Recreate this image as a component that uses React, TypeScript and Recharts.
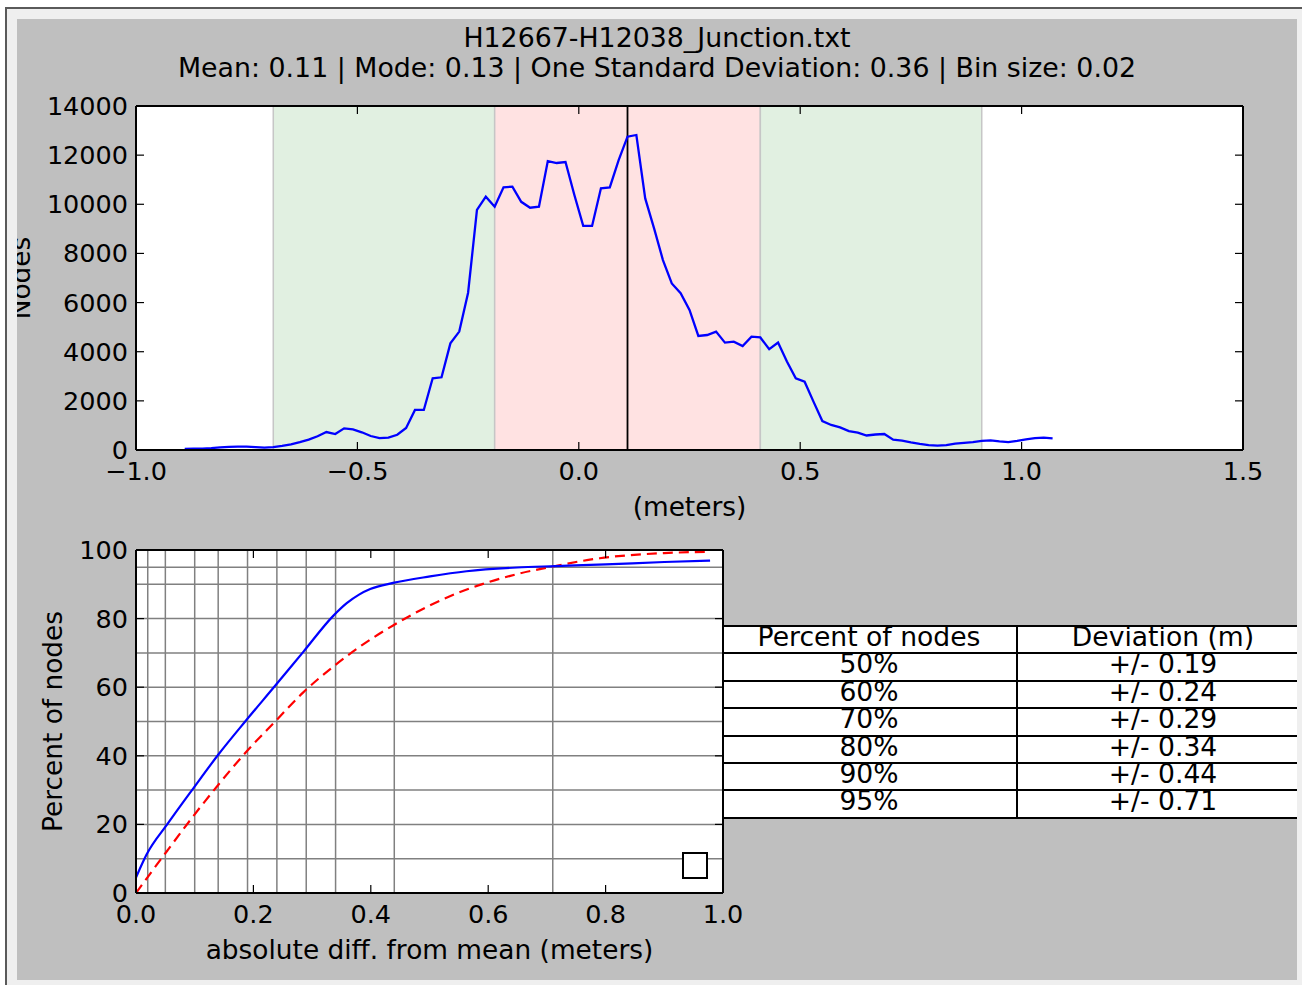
import React from 'react';
import { LineChart, Line, XAxis, YAxis, CartesianGrid, ReferenceArea, ReferenceLine } from 'recharts';

// ---------- data: histogram (top) ----------
const histBinCenters = [
  -0.89, -0.87, -0.85, -0.83, -0.81, -0.79, -0.77, -0.75, -0.73, -0.71,
  -0.69, -0.67, -0.65, -0.63, -0.61, -0.59, -0.57, -0.55, -0.53, -0.51,
  -0.49, -0.47, -0.45, -0.43, -0.41, -0.39, -0.37, -0.35, -0.33, -0.31,
  -0.29, -0.27, -0.25, -0.23, -0.21, -0.19, -0.17, -0.15, -0.13, -0.11,
  -0.09, -0.07, -0.05, -0.03, -0.01, 0.01, 0.03, 0.05, 0.07, 0.09,
  0.11, 0.13, 0.15, 0.17, 0.19, 0.21, 0.23, 0.25, 0.27, 0.29,
  0.31, 0.33, 0.35, 0.37, 0.39, 0.41, 0.43, 0.45, 0.47, 0.49,
  0.51, 0.53, 0.55, 0.57, 0.59, 0.61, 0.63, 0.65, 0.67, 0.69,
  0.71, 0.73, 0.75, 0.77, 0.79, 0.81, 0.83, 0.85, 0.87, 0.89,
  0.91, 0.93, 0.95, 0.97, 0.99, 1.01, 1.03, 1.05, 1.07,
];
const histCounts = [
  40, 50, 60, 80, 110, 130, 140, 135, 120, 100,
  120, 170, 230, 320, 420, 560, 730, 650, 880, 840,
  720, 570, 480, 500, 620, 900, 1630, 1630, 2920, 2960,
  4340, 4820, 6400, 9770, 10310, 9900, 10690, 10720, 10100, 9860,
  9900, 11760, 11680, 11720, 10380, 9120, 9120, 10650, 10690, 11800,
  12750, 12820, 10240, 9020, 7730, 6780, 6380, 5700, 4640, 4680,
  4820, 4370, 4410, 4230, 4610, 4580, 4100, 4370, 3600, 2920,
  2780, 1970, 1180, 1020, 920, 770, 710, 590, 630, 650,
  420, 380, 310, 250, 200, 180, 200, 260, 290, 320,
  370, 390, 350, 320, 370, 430, 480, 500, 470,
];
const histXTicks = [-1.0, -0.5, 0.0, 0.5, 1.0, 1.5];
const histYTicks = [0, 2000, 4000, 6000, 8000, 10000, 12000, 14000];
const meanValue = 0.11;
const spanEdges = [-0.69, -0.19, 0.41, 0.91];

// ---------- data: cumulative curves (bottom) ----------
const cdfDiff = [0.0, 0.018, 0.054, 0.098, 0.14, 0.186, 0.237, 0.285, 0.336, 0.359, 0.38, 0.399, 0.438, 0.501, 0.563, 0.649, 0.714, 0.8, 0.9, 0.978];
const cdfPercent = [4.5, 11.2, 20.2, 30.6, 40.3, 50, 60.4, 70.3, 80.8, 84.5, 87, 88.6, 90.4, 92.3, 93.8, 94.9, 95.3, 95.8, 96.5, 96.9];
const normalDiff = [0.0, 0.027, 0.054, 0.098, 0.14, 0.186, 0.237, 0.285, 0.336, 0.387, 0.438, 0.5, 0.55, 0.6, 0.65, 0.71, 0.79, 0.9, 0.978];
const normalPercent = [0, 6.3, 12.5, 22.5, 31.5, 40.8, 50, 58.5, 66, 72.5, 78, 83.8, 87.6, 90.6, 93, 95.2, 97.6, 99.1, 99.5];
const gridPercents = [10, 20, 30, 40, 50, 60, 70, 80, 90, 95];
const gridDeviations = [0.02, 0.05, 0.1, 0.14, 0.19, 0.24, 0.29, 0.34, 0.44, 0.71];
const cdfXTicks = [0.0, 0.2, 0.4, 0.6, 0.8, 1.0];
const cdfYTicks = [0, 20, 40, 60, 80, 100];

// ---------- text ----------
const titleText = 'H12667-H12038_Junction.txt';
const subtitleText = 'Mean: 0.11 | Mode: 0.13 | One Standard Deviation: 0.36 | Bin size: 0.02';
const tableHeaders = ['Percent of nodes', 'Deviation (m)'];
const tableFirstIndex = 4;

const histData = histBinCenters.map((x, i) => ({ x, count: histCounts[i] }));
const cdfData = cdfDiff.map((x, i) => ({ x, pct: cdfPercent[i] }));
const normalData = normalDiff.map((x, i) => ({ x, pct: normalPercent[i] }));
const tableRows = gridPercents
  .map((p, i) => [`${p}%`, `+/- ${gridDeviations[i].toFixed(2)}`])
  .slice(tableFirstIndex);

const FONT = "'DejaVu Sans', 'Bitstream Vera Sans', sans-serif";
const tickStyle = { fill: '#000', fontSize: 25.5, fontFamily: FONT };
const tickLineStyle = { stroke: '#000', strokeWidth: 1.2 };
const axisLineStyle = { stroke: '#000', strokeWidth: 2 };
const fmt1 = (v: number) => (v < 0 ? '\u2212' : '') + Math.abs(v).toFixed(1);
const blank = () => '';

const rotatedLabel = (text: string, dx: number) => (props: any) => {
  const vb = props && props.viewBox ? props.viewBox : { x: 0, y: 0, width: 0, height: 0 };
  const cx = vb.x + dx;
  const cy = vb.y + vb.height / 2;
  return (
    <text
      x={cx}
      y={cy}
      transform={`rotate(-90 ${cx} ${cy})`}
      textAnchor="middle"
      fill="#000"
      fontSize={26.4}
      fontFamily={FONT}
    >
      {text}
    </text>
  );
};

function HistogramChart() {
  return (
    <LineChart width={1280} height={530} data={histData} margin={{ top: 105, right: 53, bottom: 0, left: 0 }}>
      <CartesianGrid horizontal={false} vertical={false} fill="#ffffff" fillOpacity={1} />
      <ReferenceArea x1={spanEdges[0]} x2={spanEdges[1]} fill="#e1f0e1" fillOpacity={1} stroke="#c6c6c6" strokeWidth={1.5} />
      <ReferenceArea x1={spanEdges[1]} x2={spanEdges[2]} fill="#ffe2e2" fillOpacity={1} stroke="#c6c6c6" strokeWidth={1.5} />
      <ReferenceArea x1={spanEdges[2]} x2={spanEdges[3]} fill="#e1f0e1" fillOpacity={1} stroke="#c6c6c6" strokeWidth={1.5} />
      <ReferenceLine x={meanValue} stroke="#000" strokeWidth={1.8} />
      <XAxis
        dataKey="x"
        type="number"
        domain={[histXTicks[0], histXTicks[histXTicks.length - 1]]}
        allowDataOverflow
        ticks={histXTicks}
        interval={0}
        tickFormatter={fmt1}
        tick={tickStyle}
        tickLine={tickLineStyle}
        axisLine={axisLineStyle}
        tickSize={-8}
        tickMargin={20}
        height={80}
        label={{ value: '(meters)', position: 'insideBottom', offset: 14, fill: '#000', fontSize: 26.4, fontFamily: FONT }}
      />
      <XAxis
        xAxisId="top"
        orientation="top"
        dataKey="x"
        type="number"
        domain={[histXTicks[0], histXTicks[histXTicks.length - 1]]}
        allowDataOverflow
        ticks={histXTicks}
        interval={0}
        tickFormatter={blank}
        tick={tickStyle}
        tickLine={tickLineStyle}
        axisLine={axisLineStyle}
        tickSize={-8}
        height={1}
      />
      <YAxis
        type="number"
        domain={[histYTicks[0], histYTicks[histYTicks.length - 1]]}
        allowDataOverflow
        ticks={histYTicks}
        interval={0}
        tick={tickStyle}
        tickLine={tickLineStyle}
        axisLine={axisLineStyle}
        tickSize={-8}
        tickMargin={16}
        width={119}
        label={rotatedLabel('Nodes', 13)}
      />
      <YAxis
        yAxisId="right"
        orientation="right"
        type="number"
        domain={[histYTicks[0], histYTicks[histYTicks.length - 1]]}
        allowDataOverflow
        ticks={histYTicks}
        interval={0}
        tickFormatter={blank}
        tick={tickStyle}
        tickLine={tickLineStyle}
        axisLine={axisLineStyle}
        tickSize={-8}
        width={1}
      />
      <Line
        type="linear"
        dataKey="count"
        stroke="#0000ff"
        strokeWidth={2.3}
        dot={false}
        activeDot={false}
        isAnimationActive={false}
      />
    </LineChart>
  );
}

function CumulativeChart() {
  return (
    <LineChart width={743} height={460} margin={{ top: 29, right: 36, bottom: 0, left: 0 }}>
      <CartesianGrid
        horizontalValues={gridPercents}
        verticalValues={gridDeviations}
        stroke="#808080"
        strokeWidth={1.5}
        fill="#ffffff"
        fillOpacity={1}
      />
      <XAxis
        dataKey="x"
        type="number"
        domain={[cdfXTicks[0], cdfXTicks[cdfXTicks.length - 1]]}
        allowDataOverflow
        ticks={cdfXTicks}
        interval={0}
        tickFormatter={fmt1}
        tick={tickStyle}
        tickLine={tickLineStyle}
        axisLine={axisLineStyle}
        tickSize={-8}
        tickMargin={20}
        height={87}
        label={{ value: 'absolute diff. from mean (meters)', position: 'insideBottom', offset: 21, fill: '#000', fontSize: 26.4, fontFamily: FONT }}
      />
      <XAxis
        xAxisId="top"
        orientation="top"
        dataKey="x"
        type="number"
        domain={[cdfXTicks[0], cdfXTicks[cdfXTicks.length - 1]]}
        allowDataOverflow
        ticks={cdfXTicks}
        interval={0}
        tickFormatter={blank}
        tick={tickStyle}
        tickLine={tickLineStyle}
        axisLine={axisLineStyle}
        tickSize={-8}
        height={1}
      />
      <YAxis
        type="number"
        domain={[cdfYTicks[0], cdfYTicks[cdfYTicks.length - 1]]}
        allowDataOverflow
        ticks={cdfYTicks}
        interval={0}
        tick={tickStyle}
        tickLine={tickLineStyle}
        axisLine={axisLineStyle}
        tickSize={-8}
        tickMargin={16}
        width={119}
        label={rotatedLabel('Percent of nodes', 44.7)}
      />
      <YAxis
        yAxisId="right"
        orientation="right"
        type="number"
        domain={[cdfYTicks[0], cdfYTicks[cdfYTicks.length - 1]]}
        allowDataOverflow
        ticks={cdfYTicks}
        interval={0}
        tickFormatter={blank}
        tick={tickStyle}
        tickLine={tickLineStyle}
        axisLine={axisLineStyle}
        tickSize={-8}
        width={1}
      />
      <Line
        data={normalData}
        type="monotone"
        dataKey="pct"
        stroke="#ff0000"
        strokeWidth={2.2}
        strokeDasharray="10 6"
        dot={false}
        activeDot={false}
        isAnimationActive={false}
      />
      <Line
        data={cdfData}
        type="monotone"
        dataKey="pct"
        stroke="#0000ff"
        strokeWidth={2.2}
        dot={false}
        activeDot={false}
        isAnimationActive={false}
      />
    </LineChart>
  );
}

function StatsTable() {
  const rowH = 27.4;
  const colW = 294;
  const pad = 10;
  const allRows = [tableHeaders, ...tableRows];
  const n = allRows.length;
  return (
    <div style={{ position: 'absolute', left: 722, top: 625 - pad, width: 575, height: n * rowH + 3 + 2 * pad, overflow: 'hidden' }}>
      <div style={{ position: 'absolute', left: 0, top: pad, width: 600, height: n * rowH + 2, background: '#ffffff' }} />
      {allRows.map((row, i) =>
        row.map((cell, j) => (
          <div
            key={`c${i}-${j}`}
            style={{
              position: 'absolute',
              left: j * colW,
              top: pad + i * rowH - 2,
              width: colW,
              height: rowH,
              lineHeight: '27px',
              fontSize: 26.6,
              fontFamily: FONT,
              color: '#000',
              textAlign: 'center',
              whiteSpace: 'nowrap',
            }}
          >
            {cell}
          </div>
        ))
      )}
      {Array.from({ length: n + 1 }, (_, i) => (
        <div key={`h${i}`} style={{ position: 'absolute', left: 0, top: pad + i * rowH, width: 600, height: 2, background: '#000' }} />
      ))}
      {[0, colW].map((x, i) => (
        <div key={`v${i}`} style={{ position: 'absolute', left: x, top: pad, width: 2, height: n * rowH + 2, background: '#000' }} />
      ))}
    </div>
  );
}

export default function App() {
  return (
    <div style={{ position: 'absolute', left: 0, top: 0, width: 1302, height: 985, background: '#ffffff', overflow: 'hidden', fontFamily: FONT }}>
      <div
        style={{
          position: 'absolute',
          left: 5,
          top: 7,
          width: 1297,
          height: 978,
          borderTop: '2px solid #5a5a5a',
          borderLeft: '2px solid #5a5a5a',
          background: '#efefef',
          boxSizing: 'border-box',
        }}
      />
      <div style={{ position: 'absolute', left: 17, top: 19, width: 1280, height: 961, background: '#bfbfbf' }} />
      <div
        style={{
          position: 'absolute',
          left: 17,
          top: 23,
          width: 1280,
          textAlign: 'center',
          fontSize: 26.8,
          lineHeight: '30px',
          color: '#000',
          whiteSpace: 'nowrap',
        }}
      >
        <div>{titleText}</div>
        <div>{subtitleText}</div>
      </div>
      <div style={{ position: 'absolute', left: 17, top: 0, width: 1280, height: 530, overflow: 'hidden' }}>
        <HistogramChart />
      </div>
      <div style={{ position: 'absolute', left: 17, top: 520, width: 743, height: 460, overflow: 'hidden' }}>
        <CumulativeChart />
      </div>
      <div
        style={{
          position: 'absolute',
          left: 682,
          top: 852,
          width: 26,
          height: 27,
          border: '2px solid #000',
          background: '#ffffff',
          boxSizing: 'border-box',
        }}
      />
      <StatsTable />
    </div>
  );
}
